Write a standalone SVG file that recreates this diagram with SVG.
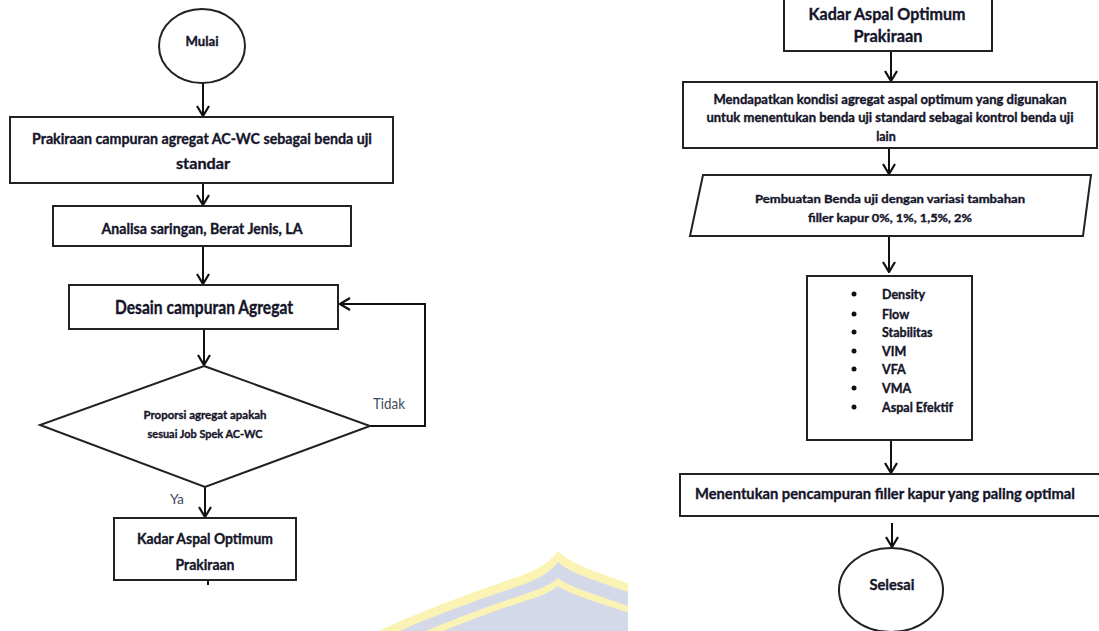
<svg xmlns="http://www.w3.org/2000/svg" width="1099" height="631" viewBox="0 0 1099 631">
<style>
.box{fill:#fff;stroke:#222;stroke-width:2}
.ln{fill:none;stroke:#111;stroke-width:2}
.t{font-family:Lato,"Open Sans",sans-serif;font-weight:bold;fill:#15152a;stroke:#15152a;stroke-width:0.35;text-anchor:middle;dominant-baseline:central}
.tl{font-family:Lato,"Open Sans",sans-serif;font-weight:bold;fill:#15152a;stroke:#15152a;stroke-width:0.35;dominant-baseline:central}
.lbl{font-family:Lato,"Open Sans",sans-serif;fill:#3e4a5e;dominant-baseline:central}
</style>
<defs>
<marker id="ah" viewBox="0 0 12 14" refX="11" refY="7" markerWidth="12" markerHeight="14" markerUnits="userSpaceOnUse" orient="auto">
<path d="M1 1 L11 7 L1 13" fill="none" stroke="#111" stroke-width="2.2"/>
</marker>
<clipPath id="wm"><rect x="300" y="500" width="328" height="131"/></clipPath>
</defs>
<rect width="1099" height="631" fill="#fff"/>
<g id="watermark" clip-path="url(#wm)">
<path d="M360 640 C420 610 480 590 520 576 C540 569 552 560 558 551 C566 560 585 568 605 575 L640 588 L640 640 Z" fill="#fbf3b4"/>
<path d="M380 640 C435 614 490 596 525 584 C543 577 553 569 558 562 C566 570 585 577 605 584 L640 596 L640 640 Z" fill="#d3d9e8"/>
<path d="M405 640 C450 620 495 604 525 594 C543 588 553 583 558 578 C566 585 585 591 605 598 L640 610 L640 640 Z" fill="#fbf3b4"/>
<path d="M420 640 C462 623 500 609 528 600 C545 595 553 590 558 586 C566 592 585 598 605 605 L640 616 L640 640 Z" fill="#d3d9e8"/>
</g>
<g id="connectors">
<line class="ln" x1="203" y1="83" x2="203" y2="116" marker-end="url(#ah)"/>
<line class="ln" x1="203" y1="183" x2="203" y2="205" marker-end="url(#ah)"/>
<line class="ln" x1="203" y1="246" x2="203" y2="284" marker-end="url(#ah)"/>
<line class="ln" x1="204" y1="329" x2="204" y2="365" marker-end="url(#ah)"/>
<line class="ln" x1="205" y1="487" x2="205" y2="517" marker-end="url(#ah)"/>
<polyline class="ln" points="370,426 425,426 425,304 340,304" marker-end="url(#ah)"/>
<line class="ln" x1="208" y1="580" x2="208" y2="585"/>
<line class="ln" x1="891" y1="51" x2="891" y2="81" marker-end="url(#ah)"/>
<line class="ln" x1="889" y1="148" x2="889" y2="174" marker-end="url(#ah)"/>
<line class="ln" x1="889" y1="236" x2="889" y2="272" marker-end="url(#ah)"/>
<line class="ln" x1="891" y1="440" x2="891" y2="473" marker-end="url(#ah)"/>
<line class="ln" x1="892" y1="523" x2="892" y2="547" marker-end="url(#ah)"/>
<text class="lbl" x="373" y="403" font-size="15" textLength="32" lengthAdjust="spacingAndGlyphs">Tidak</text>
<text class="lbl" x="170" y="498" font-size="14" textLength="14" lengthAdjust="spacingAndGlyphs">Ya</text>
</g>
<g id="mulai">
<ellipse class="box" cx="202" cy="46" rx="43" ry="37"/>
<text class="t" x="202" y="40" font-size="14" textLength="33" lengthAdjust="spacingAndGlyphs">Mulai</text>
</g>
<g id="prakiraan-campuran">
<rect class="box" x="10" y="117" width="383" height="66"/>
<text class="t" x="202" y="138" font-size="15" textLength="340" lengthAdjust="spacingAndGlyphs">Prakiraan campuran agregat AC-WC sebagai benda uji</text>
<text class="t" x="203" y="163" font-size="15" textLength="54" lengthAdjust="spacingAndGlyphs">standar</text>
</g>
<g id="analisa">
<rect class="box" x="53" y="206" width="298" height="40"/>
<text class="t" x="202" y="228" font-size="15" textLength="201" lengthAdjust="spacingAndGlyphs">Analisa saringan, Berat Jenis, LA</text>
</g>
<g id="desain">
<rect class="box" x="69" y="285" width="269" height="44"/>
<text class="t" x="204" y="307" font-size="18" textLength="178" lengthAdjust="spacingAndGlyphs">Desain campuran Agregat</text>
</g>
<g id="proporsi">
<polygon class="box" points="204,366 370,426 205,487 40,425"/>
<text class="t" x="205" y="414" font-size="11.5" textLength="123" lengthAdjust="spacingAndGlyphs">Proporsi agregat apakah</text>
<text class="t" x="205" y="433" font-size="11.5" textLength="115" lengthAdjust="spacingAndGlyphs">sesuai Job Spek AC-WC</text>
</g>
<g id="kadar-left">
<rect class="box" x="114" y="518" width="182" height="62"/>
<text class="t" x="205" y="538" font-size="15" textLength="136" lengthAdjust="spacingAndGlyphs">Kadar Aspal Optimum</text>
<text class="t" x="205" y="564" font-size="15" textLength="59" lengthAdjust="spacingAndGlyphs">Prakiraan</text>
</g>
<g id="kadar-right">
<rect class="box" x="784" y="-4" width="208" height="55"/>
<text class="t" x="887" y="13" font-size="17" textLength="157" lengthAdjust="spacingAndGlyphs">Kadar Aspal Optimum</text>
<text class="t" x="888" y="35" font-size="17" textLength="69" lengthAdjust="spacingAndGlyphs">Prakiraan</text>
</g>
<g id="mendapatkan">
<rect class="box" x="683" y="82" width="414" height="66"/>
<text class="t" x="890" y="99" font-size="12.5" textLength="353" lengthAdjust="spacingAndGlyphs">Mendapatkan kondisi agregat aspal optimum yang digunakan</text>
<text class="t" x="890" y="117" font-size="12.5" textLength="367" lengthAdjust="spacingAndGlyphs">untuk menentukan benda uji standard sebagai kontrol benda uji</text>
<text class="t" x="886" y="136" font-size="12.5">lain</text>
</g>
<g id="pembuatan">
<polygon class="box" points="703,175 1091,175 1083,236 690,236"/>
<text class="t" x="890" y="198" font-size="11.5" textLength="270" lengthAdjust="spacingAndGlyphs">Pembuatan Benda uji dengan variasi tambahan</text>
<text class="t" x="890" y="217" font-size="11.5" textLength="164" lengthAdjust="spacingAndGlyphs">filler kapur 0%, 1%, 1,5%, 2%</text>
</g>
<g id="parameter">
<rect class="box" x="807" y="276" width="165" height="164"/>
<g fill="#111">
<circle cx="854" cy="294" r="2.5"/><circle cx="854" cy="314" r="2.5"/><circle cx="854" cy="332" r="2.5"/><circle cx="854" cy="351" r="2.5"/><circle cx="854" cy="369" r="2.5"/><circle cx="854" cy="388" r="2.5"/><circle cx="854" cy="407" r="2.5"/>
</g>
<text class="tl" x="882" y="294" font-size="12.5">Density</text>
<text class="tl" x="882" y="314" font-size="12.5">Flow</text>
<text class="tl" x="882" y="332" font-size="12.5">Stabilitas</text>
<text class="tl" x="882" y="351" font-size="12.5">VIM</text>
<text class="tl" x="882" y="369" font-size="12.5">VFA</text>
<text class="tl" x="882" y="388" font-size="12.5">VMA</text>
<text class="tl" x="882" y="407" font-size="12.5" textLength="71" lengthAdjust="spacingAndGlyphs">Aspal Efektif</text>
</g>
<g id="menentukan">
<rect class="box" x="680" y="474" width="425" height="42"/>
<text class="tl" x="695" y="493" font-size="15" textLength="380" lengthAdjust="spacingAndGlyphs">Menentukan pencampuran filler kapur yang paling optimal</text>
</g>
<g id="selesai">
<ellipse class="box" cx="891" cy="590" rx="52" ry="42"/>
<text class="t" x="892" y="584" font-size="15" textLength="45" lengthAdjust="spacingAndGlyphs">Selesai</text>
</g>
</svg>
